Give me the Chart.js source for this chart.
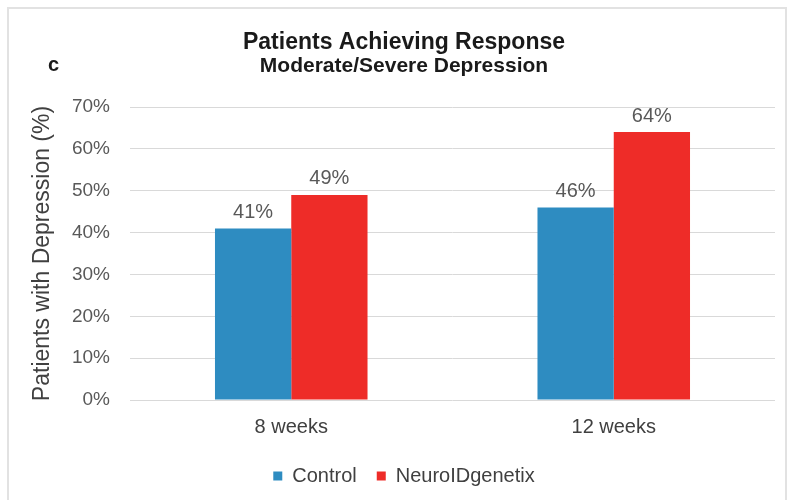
<!DOCTYPE html>
<html>
<head>
<meta charset="utf-8">
<script src="https://cdn.jsdelivr.net/npm/chart.js@4/dist/chart.umd.min.js"></script>
<style>
  html, body { margin: 0; padding: 0; background: #ffffff; }
  #wrap { position: relative; width: 794px; height: 500px; overflow: hidden; }
  #frame {
    position: absolute; left: 7px; top: 7px; width: 780px; height: 520px;
    border: 2px solid #e2e2e2; box-sizing: border-box;
  }
  #panel {
    position: absolute; left: 48px; top: 53px;
    font: bold 20px "Liberation Sans", Arial, sans-serif; color: #1a1a1a;
  }
  canvas { position: absolute; left: 0; top: 0; }
</style>
</head>
<body>
<div id="wrap">
  <div id="frame"></div>
  <canvas id="chart" width="794" height="500"></canvas>
  <div id="panel">c</div>
</div>
<script>
// Share of patients reaching response, by visit and arm
const categories = ['8 weeks', '12 weeks'];
const controlValues = [41, 46];
const neuroValues = [49, 64];
const seriesNames = ['Control', 'NeuroIDgenetix'];

const FONT = '"Liberation Sans", Arial, sans-serif';
Chart.defaults.font.family = FONT;

// Writes each bar's percentage just above its top
const valueLabels = {
  id: 'valueLabels',
  afterDatasetsDraw(chart) {
    const ctx = chart.ctx;
    ctx.save();
    ctx.font = '20px ' + FONT;
    ctx.fillStyle = '#595959';
    ctx.textAlign = 'center';
    ctx.textBaseline = 'middle';
    chart.data.datasets.forEach((ds, i) => {
      chart.getDatasetMeta(i).data.forEach((bar, j) => {
        ctx.fillText(ds.data[j] + '%', bar.x, bar.y - 16);
      });
    });
    ctx.restore();
  }
};

new Chart(document.getElementById('chart'), {
  type: 'bar',
  data: {
    labels: categories,
    datasets: [
      { label: seriesNames[0], data: controlValues, backgroundColor: '#2E8CC1' },
      { label: seriesNames[1], data: neuroValues, backgroundColor: '#EE2C28' }
    ]
  },
  options: {
    responsive: false,
    animation: false,
    devicePixelRatio: 1,
    layout: { padding: { left: 33, right: 19, top: 10, bottom: 4 } },
    datasets: {
      bar: { categoryPercentage: 0.473, barPercentage: 1, borderWidth: 0 }
    },
    scales: {
      x: {
        grid: { display: false },
        border: { display: false },
        ticks: { color: '#404040', font: { size: 20 }, padding: 7 },
        afterFit(scale) { scale.height = 46; }
      },
      y: {
        min: 0,
        max: 70,
        ticks: {
          stepSize: 10,
          color: '#595959',
          font: { size: 19 },
          padding: 20,
          callback: v => v + '%'
        },
        grid: { color: '#d9d9d9', lineWidth: 1, drawTicks: false },
        border: { display: false },
        title: {
          display: true,
          text: 'Patients with Depression (%)',
          color: '#404040',
          font: { size: 23, lineHeight: 1 },
          padding: { top: -2, bottom: 0 }
        },
        afterFit(scale) { scale.width = 97; }
      }
    },
    plugins: {
      title: {
        display: true,
        text: 'Patients Achieving Response',
        color: '#1a1a1a',
        font: { size: 23, weight: 'bold', lineHeight: 1 },
        padding: { top: 21, bottom: 0 }
      },
      subtitle: {
        display: true,
        text: 'Moderate/Severe Depression',
        color: '#1a1a1a',
        font: { size: 21, weight: 'bold', lineHeight: 1 },
        padding: { top: 2, bottom: 30 }
      },
      legend: {
        position: 'bottom',
        padding: 10,
        labels: {
          boxWidth: 9,
          boxHeight: 9,
          padding: 20,
          color: '#404040',
          font: { size: 20 }
        }
      },
      tooltip: { enabled: false }
    }
  },
  plugins: [valueLabels]
});
</script>
</body>
</html>
